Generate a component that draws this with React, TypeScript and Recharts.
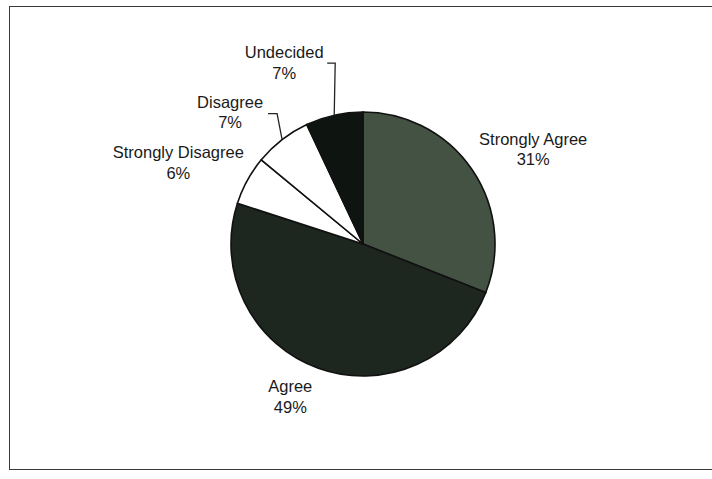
import { PieChart, Pie, Cell } from "recharts";

const categories = ["Strongly Agree", "Agree", "Strongly Disagree", "Disagree", "Undecided"];
const shares = [31, 49, 6, 7, 7];
const sliceColors = ["#435242", "#1d271f", "#ffffff", "#ffffff", "#0e1510"];

const data = categories.map((name, i) => ({ name, value: shares[i] }));

// where each label sits relative to the slice's outer edge (at its mid angle)
const labelNudge: Record<string, { dx: number; dy: number; leader?: { ex: number; ey: number; len: number } }> = {
  "Strongly Agree": { dx: 61, dy: -25 },
  Agree: { dx: -28, dy: 24 },
  "Strongly Disagree": { dx: -69, dy: -22 },
  Disagree: { dx: -52, dy: -32, leader: { ex: -5, ey: -26, len: 9 } },
  Undecided: { dx: -50, dy: -57, leader: { ex: 1, ey: -52, len: 8 } },
};

const RADIAN = Math.PI / 180;

function SliceLabel(props: any) {
  const { cx, cy, midAngle, outerRadius, name, value } = props;
  const ex = cx + outerRadius * Math.cos(-midAngle * RADIAN);
  const ey = cy + outerRadius * Math.sin(-midAngle * RADIAN);
  const n = labelNudge[name];
  const tx = ex + n.dx;
  const ty = ey + n.dy;
  return (
    <g>
      {n.leader && (
        <polyline
          points={`${ex},${ey} ${ex + n.leader.ex},${ey + n.leader.ey} ${ex + n.leader.ex - n.leader.len},${ey + n.leader.ey}`}
          fill="none"
          stroke="#222"
          strokeWidth={1.3}
        />
      )}
      <text x={tx} y={ty} textAnchor="middle" fill="#1a1a1a" fontSize={16.5} fontFamily="'Liberation Sans', Arial, sans-serif">
        {name}
      </text>
      <text x={tx} y={ty + 20.5} textAnchor="middle" fill="#1a1a1a" fontSize={16.5} fontFamily="'Liberation Sans', Arial, sans-serif">
        {value}%
      </text>
    </g>
  );
}

export default function App() {
  return (
    <div style={{ position: "absolute", left: 0, top: 0, width: 712, height: 479, background: "#fff" }}>
      <div
        style={{
          position: "absolute",
          left: 9,
          top: 6,
          width: 712,
          height: 462,
          border: "1.5px solid #3a3a3a",
          borderRight: "none",
        }}
      />
      <div style={{ position: "absolute", left: 0, top: 0 }}>
        <PieChart width={712} height={479} margin={{ top: 0, right: 0, bottom: 0, left: 0 }}>
          <Pie
            data={data}
            dataKey="value"
            nameKey="name"
            cx={363}
            cy={244}
            outerRadius={132}
            startAngle={90}
            endAngle={-270}
            stroke="#111"
            strokeWidth={1.6}
            label={SliceLabel}
            labelLine={false}
            isAnimationActive={false}
          >
            {data.map((d, i) => (
              <Cell key={d.name} fill={sliceColors[i]} />
            ))}
          </Pie>
        </PieChart>
      </div>
    </div>
  );
}
